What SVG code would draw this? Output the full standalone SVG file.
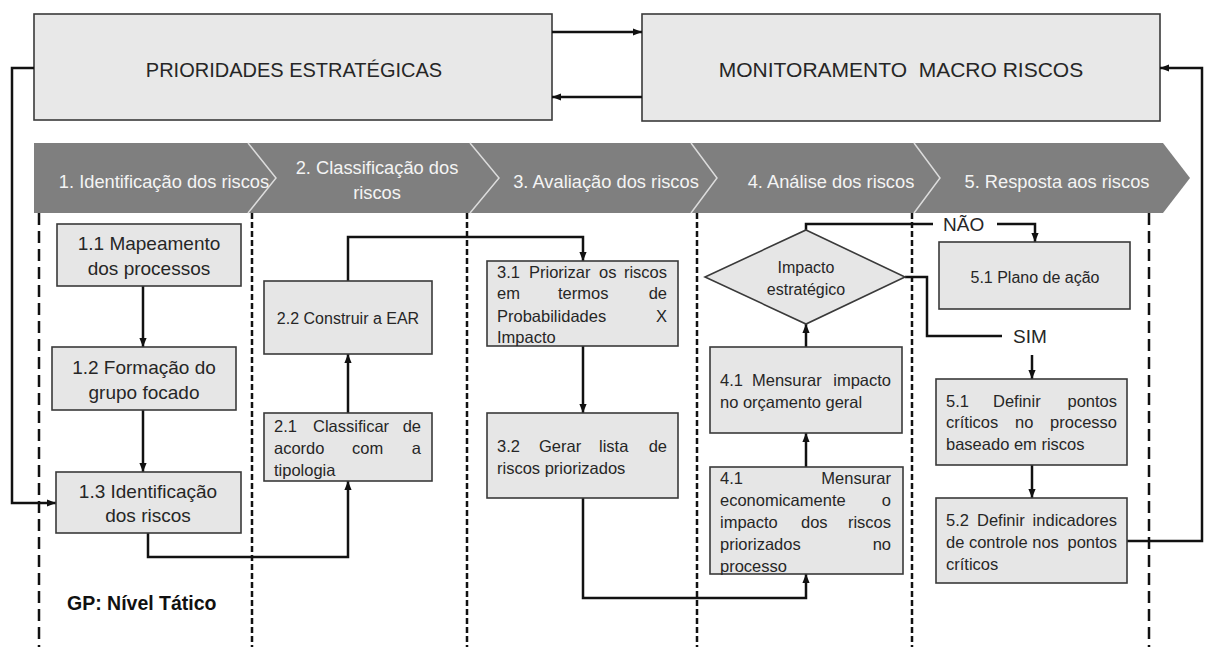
<svg xmlns="http://www.w3.org/2000/svg" width="1209" height="647" viewBox="0 0 1209 647">
<style>
.box{fill:#e6e6e6;stroke:#3a3a3a;stroke-width:1.6}
.big{fill:#e8e8e8;stroke:#3a3a3a;stroke-width:1.6}
.t{font-family:"Liberation Sans",Arial,sans-serif;fill:#262626}
.f19{font-size:19px}
.f16{font-size:16.5px}
.f20{font-size:20px}
.c{text-anchor:middle}
.e{text-anchor:end}
.hd{font-family:"Liberation Sans",Arial,sans-serif;font-size:18.3px;fill:#f4f4f4;text-anchor:middle}
.cn{fill:none;stroke:#111;stroke-width:2.5}
.lane{stroke:#111;stroke-width:2.5;fill:none}
</style>
<defs>
<marker id="ah" viewBox="0 0 10 10" refX="10" refY="5" markerWidth="9" markerHeight="9" markerUnits="userSpaceOnUse" orient="auto">
<path d="M0,1 L10,5 L0,9 z" fill="#111"/>
</marker>
</defs>
<rect width="1209" height="647" fill="#ffffff"/>

<g id="chevrons">
<path d="M34,143 H1163 L1190,178 L1163,213 H34 Z" fill="#7f7f7f"/>
<g fill="none" stroke="#dcdcdc" stroke-width="1.5">
<polyline points="248,143 276,178 248,213"/>
<polyline points="470,143 499,178 470,213"/>
<polyline points="691,143 717,178 691,213"/>
<polyline points="914,143 940,178 914,213"/>
</g>
<text class="hd" x="164" y="188">1. Identificação dos riscos</text>
<text class="hd" x="377" y="174">2. Classificação dos</text>
<text class="hd" x="377" y="199">riscos</text>
<text class="hd" x="606" y="188">3. Avaliação dos riscos</text>
<text class="hd" x="831" y="188">4. Análise dos riscos</text>
<text class="hd" x="1057" y="188">5. Resposta aos riscos</text>
</g>

<g id="lanes">
<line class="lane" x1="39" y1="213" x2="39" y2="647" stroke-dasharray="12,6"/>
<line class="lane" x1="252" y1="213" x2="252" y2="647" stroke-dasharray="6,3"/>
<line class="lane" x1="467" y1="213" x2="467" y2="647" stroke-dasharray="6,3"/>
<line class="lane" x1="697" y1="213" x2="697" y2="647" stroke-dasharray="6,3"/>
<line class="lane" x1="912" y1="213" x2="912" y2="647" stroke-dasharray="6,3"/>
<line class="lane" x1="1149" y1="213" x2="1149" y2="647" stroke-dasharray="12,6"/>
</g>

<g id="prioridades">
<rect class="big" x="34" y="14" width="518" height="106"/>
<text class="t f20 c" x="294" y="77">PRIORIDADES ESTRATÉGICAS</text>
</g>
<g id="monitoramento">
<rect class="big" x="642" y="14" width="518" height="107"/>
<text class="t c" x="901" y="77" style="white-space:pre;font-size:21px">MONITORAMENTO  MACRO RISCOS</text>
</g>

<g id="connectors">
<path class="cn" d="M552,32 H642" marker-end="url(#ah)"/>
<path class="cn" d="M642,97 H552" marker-end="url(#ah)"/>
<path class="cn" d="M34,68 H12 V503 H56" marker-end="url(#ah)"/>
<path class="cn" d="M1127,541 H1202 V68 H1160" marker-end="url(#ah)"/>
<path class="cn" d="M143,286 V347" marker-end="url(#ah)"/>
<path class="cn" d="M143,410 V472" marker-end="url(#ah)"/>
<path class="cn" d="M148,533 V557 H348 V481" marker-end="url(#ah)"/>
<path class="cn" d="M348,413 V354" marker-end="url(#ah)"/>
<path class="cn" d="M348,281 V237 H583 V261" marker-end="url(#ah)"/>
<path class="cn" d="M583,346 V413" marker-end="url(#ah)"/>
<path class="cn" d="M583,498 V598 H806 V574" marker-end="url(#ah)"/>
<path class="cn" d="M806,467 V433" marker-end="url(#ah)"/>
<path class="cn" d="M806,347 V324" marker-end="url(#ah)"/>
<path class="cn" d="M806,230 V224 H933"/>
<path class="cn" d="M997,224 H1035 V242" marker-end="url(#ah)"/>
<path class="cn" d="M905,277 H927 V336 H1002"/>
<path class="cn" d="M1032,355 V379" marker-end="url(#ah)"/>
<path class="cn" d="M1032,465 V498" marker-end="url(#ah)"/>
<text class="t f19" x="943" y="231" fill="#111">NÃO</text>
<text class="t f19" x="1013" y="343" fill="#111">SIM</text>
</g>

<g id="n11">
<rect class="box" x="57" y="224" width="184" height="62"/>
<text class="t f19 c" x="149" y="250">1.1 Mapeamento</text>
<text class="t f19 c" x="149" y="275">dos processos</text>
</g>
<g id="n12">
<rect class="box" x="52" y="347" width="184" height="63"/>
<text class="t f19 c" x="144" y="374">1.2 Formação do</text>
<text class="t f19 c" x="144" y="399">grupo focado</text>
</g>
<g id="n13">
<rect class="box" x="56" y="472" width="185" height="61"/>
<text class="t f19 c" x="148" y="498">1.3 Identificação</text>
<text class="t f19 c" x="148" y="522">dos riscos</text>
</g>

<g id="n21">
<rect class="box" x="264" y="413" width="168" height="68"/>
<text class="t f16" x="274" y="432">2.1</text>
<text class="t f16" x="313" y="432">Classificar</text>
<text class="t f16 e" x="421" y="432">de</text>
<text class="t f16" x="274" y="454">acordo</text>
<text class="t f16" x="352" y="454">com</text>
<text class="t f16 e" x="421" y="454">a</text>
<text class="t f16" x="274" y="476">tipologia</text>
</g>
<g id="n22">
<rect class="box" x="264" y="281" width="168" height="73"/>
<text class="t c" style="font-size:16px" x="348" y="324">2.2 Construir a EAR</text>
</g>

<g id="n31">
<rect class="box" x="487" y="261" width="191" height="85"/>
<text class="t f16" x="497" y="278">3.1</text>
<text class="t f16" x="529" y="278">Priorizar</text>
<text class="t f16" x="599" y="278">os</text>
<text class="t f16 e" x="667" y="278">riscos</text>
<text class="t f16" x="497" y="299">em</text>
<text class="t f16" x="558" y="299">termos</text>
<text class="t f16 e" x="667" y="299">de</text>
<text class="t f16" x="497" y="322">Probabilidades</text>
<text class="t f16 e" x="667" y="322">X</text>
<text class="t f16" x="497" y="343">Impacto</text>
</g>
<g id="n32">
<rect class="box" x="487" y="413" width="191" height="85"/>
<text class="t f16" x="497" y="452">3.2</text>
<text class="t f16" x="539" y="452">Gerar</text>
<text class="t f16" x="599" y="452">lista</text>
<text class="t f16 e" x="667" y="452">de</text>
<text class="t f16" x="497" y="474">riscos priorizados</text>
</g>

<g id="n41a">
<rect class="box" x="710" y="347" width="192" height="86"/>
<text class="t f16" x="720" y="386">4.1</text>
<text class="t f16" x="752" y="386">Mensurar</text>
<text class="t f16 e" x="891" y="386">impacto</text>
<text class="t f16" x="720" y="408">no orçamento geral</text>
</g>
<g id="n41b">
<rect class="box" x="710" y="467" width="193" height="107"/>
<text class="t f16" x="720" y="484">4.1</text>
<text class="t f16 e" x="891" y="484">Mensurar</text>
<text class="t f16" x="720" y="506">economicamente</text>
<text class="t f16 e" x="891" y="506">o</text>
<text class="t f16" x="720" y="528">impacto</text>
<text class="t f16" x="801" y="528">dos</text>
<text class="t f16 e" x="891" y="528">riscos</text>
<text class="t f16" x="720" y="550">priorizados</text>
<text class="t f16 e" x="891" y="550">no</text>
<text class="t f16" x="720" y="572">processo</text>
</g>
<g id="decisao">
<polygon class="box" points="806,230 905,277 806,324 705,277"/>
<text class="t c" style="font-size:16px" x="806" y="273">Impacto</text>
<text class="t c" style="font-size:16px" x="806" y="295">estratégico</text>
</g>

<g id="n51plano">
<rect class="box" x="939" y="242" width="191" height="67"/>
<text class="t c" style="font-size:16px" x="1035" y="283">5.1 Plano de ação</text>
</g>
<g id="n51">
<rect class="box" x="936" y="379" width="191" height="86"/>
<text class="t f16" x="946" y="407">5.1</text>
<text class="t f16" x="993" y="407">Definir</text>
<text class="t f16 e" x="1117" y="407">pontos</text>
<text class="t f16" x="946" y="428">críticos</text>
<text class="t f16" x="1015" y="428">no</text>
<text class="t f16 e" x="1117" y="428">processo</text>
<text class="t f16" x="946" y="450">baseado em riscos</text>
</g>
<g id="n52">
<rect class="box" x="936" y="498" width="191" height="85"/>
<text class="t f16" x="946" y="526">5.2</text>
<text class="t f16" x="977" y="526">Definir</text>
<text class="t f16 e" x="1117" y="526">indicadores</text>
<text class="t f16" x="946" y="548">de controle nos</text>
<text class="t f16 e" x="1117" y="548">pontos</text>
<text class="t f16" x="946" y="570">críticos</text>
</g>

<g id="legenda">
<text class="t" style="font-size:19.5px;font-weight:bold;fill:#111" x="67" y="610">GP: Nível Tático</text>
</g>
</svg>
